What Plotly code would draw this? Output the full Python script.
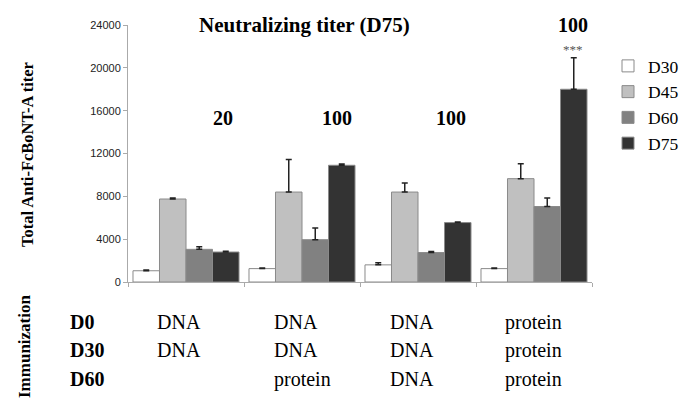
import plotly.graph_objects as go

groups = ["G1", "G2", "G3", "G4"]
series_names = ["D30", "D45", "D60", "D75"]
d30 = [1050, 1250, 1600, 1250]
d30_err = [60, 60, 200, 60]
d45 = [7750, 8400, 8400, 9650]
d45_err = [100, 3050, 850, 1400]
d60 = [3050, 3950, 2750, 7050]
d60_err = [250, 1100, 100, 800]
d75 = [2800, 10900, 5550, 18000]
d75_err = [60, 120, 60, 2950]
colors = ["#ffffff", "#c0c0c0", "#818181", "#333333"]

neut_titers = ["20", "100", "100", "100"]
y_ticks = [0, 4000, 8000, 12000, 16000, 20000, 24000]
y_tick_text = ["0", "4000", "8000", "12000", "16000", "20000", "24000"]
row_labels = ["D0", "D30", "D60"]
immun_table = [
    ["DNA", "DNA", "DNA", "protein"],
    ["DNA", "DNA", "DNA", "protein"],
    ["", "protein", "DNA", "protein"],
]

OFF = 8  # default body margin of the html page
W, H = 696 - OFF, 415 - OFF
PX0, PX1, PY0, PY1 = 128, 592, 25, 282  # plot area in window pixels
L, T = PX0 - OFF, PY0 - OFF
R = W - (PX1 - OFF)
B = H - (PY1 - OFF)
PW = PX1 - PX0
PH = PY1 - PY0

def px(x):
    return (x - PX0) / PW

def py(y):
    return (PY1 - y) / PH

fig = go.Figure()
vals = [d30, d45, d60, d75]
errs = [d30_err, d45_err, d60_err, d75_err]
for name, v, e, c in zip(series_names, vals, errs, colors):
    fig.add_trace(go.Bar(
        x=groups, y=v, name=name,
        marker=dict(color=c, line=dict(color="#8a8a8a", width=1)),
        error_y=dict(type="data", array=e, arrayminus=[0] * len(e), symmetric=False,
                     color="#222222", thickness=1.5, width=3),
    ))

serif = "Liberation Serif"
ann = []

def add(text, x, y, size, xanchor="center", angle=0, color="#000"):
    ann.append(dict(text=text, x=px(x), y=py(y), xref="paper", yref="paper",
                    xanchor=xanchor, yanchor="middle", showarrow=False, textangle=angle,
                    font=dict(family=serif, size=size, color=color)))

add("<b>Neutralizing titer (D75)</b>", 304, 25, 21)
titer_pos = [(223, 118), (337, 118), (451, 118), (573, 25)]
for t, (xx, yy) in zip(neut_titers, titer_pos):
    add("<b>%s</b>" % t, xx, yy, 20)
add("***", 573, 49, 13, color="#555")
add("<b>Total Anti-FcBoNT-A titer</b>", 27, 155, 16.5, angle=-90)
add("<b>Immunization</b>", 24, 346, 17, angle=-90)
row_y = [322, 350, 379]
col_x = [155, 272, 388, 503]
for lab, ry, row in zip(row_labels, row_y, immun_table):
    add("<b>%s</b>" % lab, 68, ry, 20, xanchor="left")
    for cx, cell in zip(col_x, row):
        if cell:
            add(cell, cx, ry, 20, xanchor="left")

fig.update_layout(
    width=W, height=H,
    margin=dict(l=L, r=R, t=T, b=B, autoexpand=False),
    paper_bgcolor="white", plot_bgcolor="white",
    barmode="group", bargap=0.086, bargroupgap=0,
    showlegend=True,
    legend=dict(x=px(608), y=py(48), xanchor="left", yanchor="top",
                font=dict(family=serif, size=17.5, color="#000"),
                bgcolor="rgba(0,0,0,0)", itemwidth=30, tracegroupgap=0),
    annotations=ann,
    xaxis=dict(showticklabels=False, ticks="outside", tickson="boundaries", ticklen=4,
               tickcolor="#aaa", showline=True, linecolor="#aaa", linewidth=1,
               showgrid=False, zeroline=False),
    yaxis=dict(range=[0, 24000], tickvals=y_ticks, ticktext=y_tick_text,
               ticks="outside", ticklen=4,
               tickcolor="#aaa", showline=True, linecolor="#aaa", linewidth=1,
               showgrid=False, zeroline=False,
               tickfont=dict(family="Liberation Sans", size=11, color="#222")),
)

fig.write_html("out.html")
